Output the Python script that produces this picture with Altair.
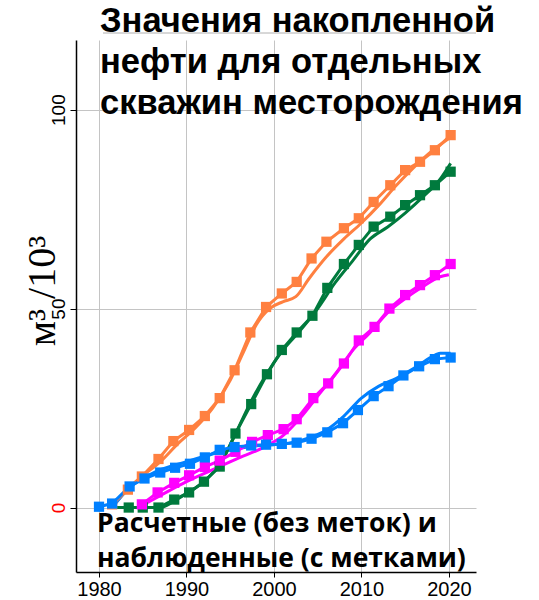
import altair as alt
import pandas as pd

# ---------------- data ----------------
series_names = ["orange", "green", "magenta", "blue"]
series_colors = ["#FF8040", "#007A3D", "#FF00FF", "#0080FF"]

obs_orange_year = [1981.5, 1983.3, 1984.9, 1986.8, 1988.5, 1990.3, 1992.1, 1993.8, 1995.5, 1997.3, 1999.1,
                   2000.9, 2002.6, 2004.3, 2006.0, 2008.0, 2009.7, 2011.4, 2013.3, 2015.0, 2016.7, 2018.4, 2020.2]
obs_orange_val = [0.8, 4.5, 7.8, 12.2, 16.7, 19.5, 23.0, 27.5, 34.5, 44.0, 50.4,
                  53.8, 56.7, 62.6, 66.8, 70.2, 72.7, 76.8, 81.0, 84.8, 86.9, 89.8, 93.6]
calc_orange_year = [1981.5, 1983, 1985, 1987, 1989, 1991, 1993, 1995, 1996.5, 1998, 1999.5, 2001, 2002.5,
                    2004, 2006, 2008, 2010, 2012, 2014, 2016, 2018, 2019.5, 2020.2]
calc_orange_val = [0, 4, 8, 11.5, 16, 20, 25, 32, 39, 46, 50, 51.7, 53, 57.5, 63, 67.5, 71.5, 76, 81,
                   85.5, 89.5, 92, 93]

obs_green_year = [1983.4, 1985.0, 1986.8, 1988.6, 1990.3, 1992.0, 1993.8, 1995.6, 1997.4, 1999.2, 2000.9,
                  2002.6, 2004.4, 2006.1, 2008.0, 2009.7, 2011.4, 2013.3, 2015.0, 2016.7, 2018.4, 2020.2]
obs_green_val = [0, 0, 0, 2, 3.8, 6.5, 10.3, 18.6, 26, 33.5, 39.6, 44, 48.2, 55.2, 61.2, 66, 70.6, 73.1,
                 76, 78.5, 81, 84.4]
calc_green_year = [1981.8, 1987.0, 1988.5, 1990, 1992, 1994, 1995.5, 1997, 1999, 2001, 2003, 2005, 2007,
                   2009, 2011, 2013, 2015, 2017, 2019, 2020.2]
calc_green_val = [0, 0, 1.5, 3.5, 6.5, 11.5, 18, 25, 33, 39.5, 44.5, 50, 56.5, 62, 67.5, 70.5, 74, 78,
                  82.5, 86.5]

obs_magenta_year = [1984.9, 1986.7, 1988.6, 1990.3, 1992.1, 1993.8, 1995.6, 1997.5, 1999.3, 2001.1, 2002.6,
                    2004.5, 2006.2, 2008.0, 2009.7, 2011.5, 2013.2, 2015.0, 2016.7, 2018.4, 2020.2]
obs_magenta_val = [0.8, 3.8, 6.2, 8.1, 10.2, 11.8, 14.0, 16.5, 18.2, 19.7, 22.2, 27.5, 31.2, 36.2, 42.0,
                   45.4, 50.0, 53.4, 55.9, 58.4, 61.2]
calc_magenta_year = [1984.5, 1987, 1990, 1993, 1996, 1999, 2001, 2003, 2005, 2007, 2009, 2011, 2013, 2015,
                     2017, 2019, 2020]
calc_magenta_val = [0, 3, 6.5, 9.5, 12.5, 15.3, 18, 22.5, 28, 33.5, 39.5, 44, 49, 52.5, 55.5, 58, 58.5]

obs_blue_year = [1980.0, 1981.5, 1983.5, 1985.2, 1987.0, 1988.7, 1990.4, 1992.1, 1993.8, 1995.5, 1997.4,
                 1999.1, 2000.9, 2002.6, 2004.3, 2006.1, 2007.9, 2009.6, 2011.4, 2013.1, 2014.8, 2016.6,
                 2018.4, 2020.2]
obs_blue_val = [0.2, 1.0, 5.3, 7.3, 8.8, 10.0, 11.0, 12.6, 14.5, 15.2, 15.6, 15.8, 16.0, 16.3, 17.3, 18.9,
                21.2, 24.5, 28.0, 30.5, 33.2, 35.5, 37.3, 37.7]
calc_blue_year = [1981.5, 1983.5, 1986, 1990, 1994, 1998, 2000, 2002, 2004, 2006, 2008, 2010, 2012, 2014,
                  2016, 2018, 2019, 2020.2]
calc_blue_val = [0, 5, 8.5, 11.5, 14, 15.5, 15.8, 16.3, 17.5, 19.5, 23, 27.5, 30.5, 32.5, 35, 37.8, 38.8,
                 38.8]

x_ticks = [1980, 1990, 2000, 2010, 2020]
y_ticks = [0, 50, 100]

title_lines = ["Значения накопленной", "нефти для отдельных", "скважин месторождения"]
note_lines = ["Расчетные (без меток) и", "наблюденные (с метками)"]
y_title = "м³ /10³"

# ---------------- tables ----------------
obs_sets = {
    "orange": (obs_orange_year, obs_orange_val),
    "green": (obs_green_year, obs_green_val),
    "magenta": (obs_magenta_year, obs_magenta_val),
    "blue": (obs_blue_year, obs_blue_val),
}
calc_sets = {
    "orange": (calc_orange_year, calc_orange_val),
    "green": (calc_green_year, calc_green_val),
    "magenta": (calc_magenta_year, calc_magenta_val),
    "blue": (calc_blue_year, calc_blue_val),
}

obs_rows = []
for s, (ys, vs) in obs_sets.items():
    for i, (yr, v) in enumerate(zip(ys, vs)):
        obs_rows.append({"series": s, "year": yr, "value": v, "order": i})
calc_rows = []
for s, (ys, vs) in calc_sets.items():
    for i, (yr, v) in enumerate(zip(ys, vs)):
        calc_rows.append({"series": s, "year": yr, "value": v, "order": i})

obs_df = pd.DataFrame(obs_rows)
calc_df = pd.DataFrame(calc_rows)

W, H = 400, 532
x_scale = alt.Scale(domain=[1977.37, 2023.1], nice=False, zero=False)
y_scale = alt.Scale(domain=[-16.2, 117.5], nice=False, zero=False)
color = alt.Color("series:N", scale=alt.Scale(domain=series_names, range=series_colors), legend=None)

x_enc = alt.X("year:Q", scale=x_scale,
              axis=alt.Axis(values=x_ticks, format="d", title=None, grid=True, gridColor="#c4c4c4",
                            gridWidth=1, domainColor="black", domainWidth=1.5, tickColor="black",
                            tickSize=5, labelFont="Liberation Sans", labelFontSize=20,
                            labelColor="black", labelPadding=2))
y_enc = alt.Y("value:Q", scale=y_scale,
              axis=alt.Axis(values=y_ticks, title=None, grid=True, gridColor="#c4c4c4", gridWidth=1,
                            domainColor="black", domainWidth=1.5, tickColor="black", tickSize=6,
                            labelFont="Liberation Sans", labelFontSize=19, labelAngle=270,
                            labelAlign="center", labelBaseline="bottom", labelPadding=2,
                            labelColor=alt.condition("datum.value == 0", alt.value("red"),
                                                     alt.value("black"))))

calc_lines = alt.Chart(calc_df).mark_line(strokeWidth=3, interpolate="monotone").encode(
    x=x_enc, y=y_enc, color=color, detail="series:N", order="order:Q")
obs_lines = alt.Chart(obs_df).mark_line(strokeWidth=3).encode(
    x=x_enc, y=y_enc, color=color, detail="series:N", order="order:Q")
obs_pts = alt.Chart(obs_df).mark_square(size=105, opacity=1).encode(
    x=x_enc, y=y_enc, color=color)

top_rule = alt.Chart(alt.Data(values=[{"a": 1}])).mark_rule(color="#b0b0b0", strokeWidth=1).encode(
    x=alt.value(27), x2=alt.value(W), y=alt.value(-7))

title_txt = alt.Chart(alt.Data(values=[{"t": "\n".join(title_lines)}])).mark_text(
    font="Liberation Sans", fontWeight="bold", fontSize=34.5, align="left", baseline="alphabetic",
    lineBreak="\n", lineHeight=41, color="black").encode(
    x=alt.value(24), y=alt.value(-8), text="t:N")

note1_txt = alt.Chart(alt.Data(values=[{"t": note_lines[0]}])).mark_text(
    font="Open Sans", fontWeight="bold", fontSize=26.5, align="left", baseline="alphabetic",
    color="black").encode(
    x=alt.value(21), y=alt.value(492), text="t:N")

note2_txt = alt.Chart(alt.Data(values=[{"t": note_lines[1]}])).mark_text(
    font="Open Sans", fontWeight="bold", fontSize=26.5, align="left", baseline="alphabetic",
    color="black").encode(
    x=alt.value(21), y=alt.value(527), text="t:N")

ytitle_txt = alt.Chart(alt.Data(values=[{"t": y_title}])).mark_text(
    font="Liberation Serif", fontSize=40, align="center", baseline="alphabetic", angle=270,
    color="black").encode(
    x=alt.value(-21), y=alt.value(251), text="t:N")

chart = alt.layer(top_rule, calc_lines, obs_lines, obs_pts, title_txt, note1_txt, note2_txt,
                  ytitle_txt).properties(
    width=W, height=H,
    padding={"left": 76, "top": 40, "right": 63, "bottom": 28},
    autosize=alt.AutoSizeParams(type="none"),
    background="white",
).configure_view(stroke=None)

chart.save("out.html", embed_options={"renderer": "svg", "actions": False})
